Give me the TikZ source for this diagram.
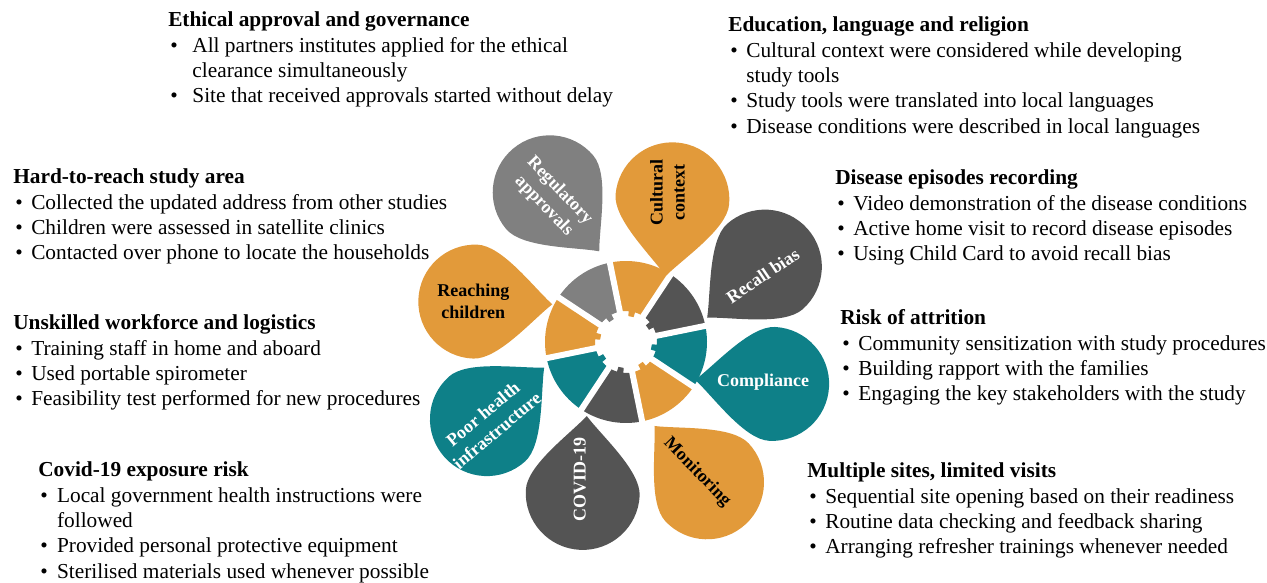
\documentclass[tikz,border=0pt]{standalone}
\usepackage{fontspec}
\setmainfont{Liberation Serif}
\usepackage{xcolor}
\usepackage{tikz}
\usetikzlibrary{calc}

\definecolor{petorange}{RGB}{226,154,58}
\definecolor{petgray}{RGB}{128,128,128}
\definecolor{petdark}{RGB}{84,84,84}
\definecolor{petteal}{RGB}{14,128,136}

\newcommand{\blocktab}[2][6.4pt]{\begin{tabular}[t]{@{\hspace{1.5pt}}l@{\hspace{#1}}l@{}}#2\end{tabular}}
\newcommand{\blocktitle}[1]{\multicolumn{2}{@{}l@{}}{\bfseries #1}}

\begin{document}
\begin{tikzpicture}[x=0.75pt,y=0.75pt,
                    infotext/.style={inner sep=0pt,anchor=base west,font=\fontsize{16}{19}\selectfont},
                    petal label/.style={inner sep=0pt,align=center,font=\bfseries\fontsize{13.5}{16.5}\selectfont}]

  \useasboundingbox (0,0) rectangle (1267,582);
  \coordinate (ctr) at (626,240);

  % inner ring
  \foreach \a/\col in {79/petorange,34/petdark,-11/petteal,-56/petorange,-101/petdark,-146/petteal,169/petorange,124/petgray}{
    \fill[\col] ($(ctr)+(\a-22.5:31)$) -- ($(ctr)+(\a-22.5:81)$)
      arc[start angle=\a-22.5,end angle=\a+22.5,radius=81]
      -- ($(ctr)+(\a+22.5:31)$) arc[start angle=\a+22.5,end angle=\a+6,radius=31]
      -- ($(ctr)+(\a+6:26)$) arc[start angle=\a+6,end angle=\a-6,radius=26]
      -- ($(ctr)+(\a-6:31)$) arc[start angle=\a-6,end angle=\a-22.5,radius=31] -- cycle;
  }
  \foreach \a in {79,34,-11,-56,-101,-146,169,124}
    \draw[white,line width=4.5pt] (ctr) -- ++(\a+22.5:85);

  % petals
  \foreach \nm/\a/\d/\col/\tcol/\rot/\lx/\ly/\txt in {
      cult/72/150/petorange/black/90/-5/7/{Cultural\\context},
      recall/28.5/158/petdark/white/34/-2/-9/{Recall bias},
      compl/-16/152/petteal/white/0/-9/2/{Compliance},
      monit/-60/162/petorange/black/-46/-10/10/{Monitoring},
      covid/-106/157/petdark/white/90/-3/13/{COVID-19},
      poor/-151/159/petteal/white/40/3/-3/{Poor health\\infrastructure},
      reach/165/156/petorange/black/0/-2/0/{Reaching\\children},
      regul/117/168/petgray/white/-46/2/-6/{Regulatory\\approvals}}{
    \coordinate (\nm) at ($(ctr)+(\a:\d)$);
    \pgfmathsetmacro{\p}{\a+193}
    \fill[\col] ($(\nm)+(\p+90:57)$) arc[start angle=\p+90,end angle=\p+270,radius=57]
      .. controls +(\p:25) and +(\p+220:25) .. ($(\nm)+(\p:77)$)
      .. controls +(\p+140:25) and +(\p:25) .. ($(\nm)+(\p+90:57)$) -- cycle;
    \node[petal label,text=\tcol,rotate=\rot] (\nm text) at ($(\nm)+(\lx,\ly)$) {\txt};
  }

  % text blocks
  \node[infotext] (ethic) at (168,555) {\blocktab[11pt]{
    \blocktitle{Ethical approval and governance}\\
    \textbullet & All partners institutes applied for the ethical\\
                & clearance simultaneously\\
    \textbullet & Site that received approvals started without delay}};

  \node[infotext] (educ) at (728,550) {\blocktab{
    \blocktitle{Education, language and religion}\\
    \textbullet & Cultural context were considered while developing\\
                & study tools\\
    \textbullet & Study tools were translated into local languages\\
    \textbullet & Disease conditions were described in local languages}};

  \node[infotext] (hard) at (13,398) {\blocktab{
    \blocktitle{Hard-to-reach study area}\\
    \textbullet & Collected the updated address from other studies\\
    \textbullet & Children were assessed in satellite clinics\\
    \textbullet & Contacted over phone to locate the households}};

  \node[infotext] (unskill) at (13,252) {\blocktab{
    \blocktitle{Unskilled workforce and logistics}\\
    \textbullet & Training staff in home and aboard\\
    \textbullet & Used portable spirometer\\
    \textbullet & Feasibility test performed for new procedures}};

  \node[infotext] (covrisk) at (38,105) {\blocktab[7pt]{
    \blocktitle{Covid-19 exposure risk}\\
    \textbullet & Local government health instructions were\\
                & followed\\
    \textbullet & Provided personal protective equipment\\
    \textbullet & Sterilised materials used whenever possible}};

  \node[infotext] (disease) at (835,397) {\blocktab{
    \blocktitle{Disease episodes recording}\\
    \textbullet & Video demonstration of the disease conditions\\
    \textbullet & Active home visit to record disease episodes\\
    \textbullet & Using Child Card to avoid recall bias}};

  \node[infotext] (attrit) at (840,257) {\blocktab{
    \blocktitle{Risk of attrition}\\
    \textbullet & Community sensitization with study procedures\\
    \textbullet & Building rapport with the families\\
    \textbullet & Engaging the key stakeholders with the study}};

  \node[infotext] (multi) at (807,104) {\blocktab{
    \blocktitle{Multiple sites, limited visits}\\
    \textbullet & Sequential site opening based on their readiness\\
    \textbullet & Routine data checking and feedback sharing\\
    \textbullet & Arranging refresher trainings whenever needed}};

\end{tikzpicture}
\end{document}
